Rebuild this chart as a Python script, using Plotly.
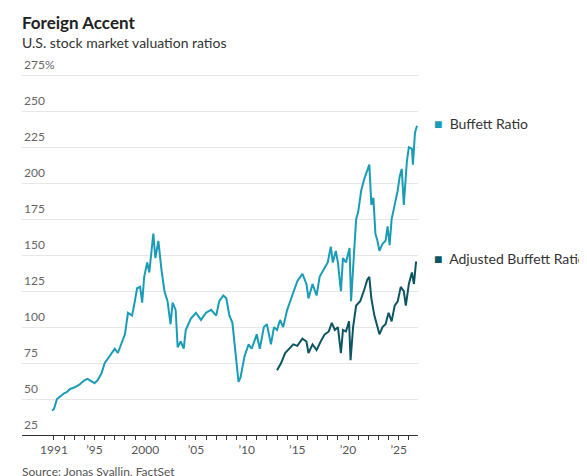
import plotly.graph_objects as go

b_x = [1990.8,1991.0,1991.3,1991.6,1992,1992.3,1992.6,1993,1993.5,1994,1994.3,1994.8,1995,1995.3,1995.7,1996,1996.5,1997,1997.3,1997.8,1998,1998.3,1998.7,1998.9,1999.2,1999.5,1999.7,1999.9,2000.2,2000.4,2000.6,2000.8,2001,2001.3,2001.6,2001.9,2002.2,2002.5,2002.7,2003,2003.2,2003.5,2003.8,2004,2004.5,2005,2005.5,2006,2006.5,2007,2007.3,2007.7,2008,2008.3,2008.6,2008.9,2009.2,2009.4,2009.8,2010.2,2010.5,2011,2011.3,2011.7,2012,2012.4,2012.7,2013,2013.3,2013.6,2014,2014.5,2014.8,2015,2015.5,2015.9,2016.1,2016.5,2016.9,2017.2,2017.6,2018,2018.3,2018.5,2018.8,2019,2019.3,2019.5,2019.8,2020,2020.15,2020.3,2020.6,2020.8,2021,2021.3,2021.6,2021.9,2022.1,2022.3,2022.5,2022.7,2022.9,2023.1,2023.4,2023.7,2023.9,2024.1,2024.3,2024.6,2024.9,2025.1,2025.3,2025.5,2025.8,2026,2026.3,2026.4,2026.6,2026.8]
b_y = [42,43,50,52,54,55,57,58,60,63,64,62,61,63,68,75,80,85,82,92,95,110,108,115,127,128,117,135,145,138,152,165,148,160,140,125,118,102,117,112,86,90,85,98,106,110,105,110,112,108,118,122,120,108,103,80,62,65,80,88,85,95,85,100,102,88,100,98,105,100,112,122,128,132,137,130,120,130,122,135,140,145,156,145,153,145,125,148,145,152,155,118,155,175,180,195,203,210,213,185,190,165,160,153,158,160,170,157,175,185,195,205,210,185,215,225,224,213,235,240]
a_x = [2013,2013.4,2013.8,2014.2,2014.6,2015,2015.5,2015.9,2016.1,2016.5,2016.9,2017.3,2017.7,2018.1,2018.4,2018.7,2019,2019.3,2019.5,2019.8,2020.1,2020.25,2020.5,2020.8,2021.2,2021.6,2021.9,2022.1,2022.3,2022.6,2022.9,2023.1,2023.4,2023.7,2024,2024.3,2024.6,2024.9,2025.2,2025.5,2025.7,2026,2026.3,2026.5,2026.7,2026.8]
a_y = [70,75,82,85,88,87,92,90,82,88,84,90,95,97,103,98,100,82,98,97,104,77,100,115,118,126,133,135,120,108,100,95,100,102,110,104,115,118,128,125,115,130,138,130,145,145]
label_years = {1991: "1991", 1995: "’95", 2000: "2000", 2005: "’05", 2010: "’10", 2015: "’15", 2020: "’20", 2025: "’25"}
y_vals = [25,50,75,100,125,150,175,200,225,250,275]
y_text = ["25","50","75","100","125","150","175","200","225","250","275%"]

tick_vals = list(range(1991, 2027))
tick_text = [label_years.get(y, "") for y in tick_vals]

C1, C2 = "#1a9cb7", "#0c5664"
L, R, T, B = 14, 177, 66, 49
PW, PH = 587 - L - R, 476 - T - B

fig = go.Figure()
fig.add_trace(go.Scatter(x=b_x, y=b_y, mode="lines", line=dict(color=C1, width=2)))
fig.add_trace(go.Scatter(x=a_x, y=a_y, mode="lines", line=dict(color=C2, width=2)))
font = "Lato, Noto Sans, sans-serif"

def px_x(p): return (p - L) / PW
def px_y(p): return (476 - B - p) / PH

ann = [
    dict(text="<b>Foreign Accent</b>", x=px_x(12), y=px_y(14), font=dict(size=17, color="#222")),
    dict(text="U.S. stock market valuation ratios", x=px_x(12), y=px_y(35), font=dict(size=14, color="#333")),
    dict(text="Source: Jonas Svallin, FactSet", x=px_x(12), y=px_y(464), font=dict(size=12, color="#555")),
    dict(text="<span style='color:%s'>■</span>  Buffett Ratio" % C1, x=px_x(424), y=px_y(115), font=dict(size=14, color="#333")),
    dict(text="<span style='color:%s'>■</span>  Adjusted Buffett Ratio" % C2, x=px_x(424), y=px_y(250), font=dict(size=14, color="#333")),
]
for v, t in zip(y_vals, y_text):
    ann.append(dict(text=t, x=0, y=v, yref="y", yanchor="bottom", yshift=1, font=dict(size=12, color="#666")))
for a in ann:
    a.setdefault("xref", "paper"); a.setdefault("yref", "paper")
    a.setdefault("xanchor", "left"); a.setdefault("yanchor", "middle")
    a["showarrow"] = False

fig.update_layout(
    width=587, height=476, showlegend=False, plot_bgcolor="white", paper_bgcolor="white",
    margin=dict(l=L, r=R, t=T, b=B, autoexpand=False), font=dict(family=font, color="#555", size=12),
    xaxis=dict(range=[1987.85, 2026.9], tickmode="array", tickvals=tick_vals, ticktext=tick_text, showgrid=False,
               showline=True, linecolor="#333", linewidth=1, zeroline=False,
               ticks="outside", ticklen=4, tickcolor="#333", tickfont=dict(size=12, color="#555")),
    yaxis=dict(range=[25, 276], tickmode="array", tickvals=y_vals, showticklabels=False,
               gridcolor="#e6e6e6", zeroline=False, showline=False),
    annotations=ann,
)
fig.write_html("out.html")
